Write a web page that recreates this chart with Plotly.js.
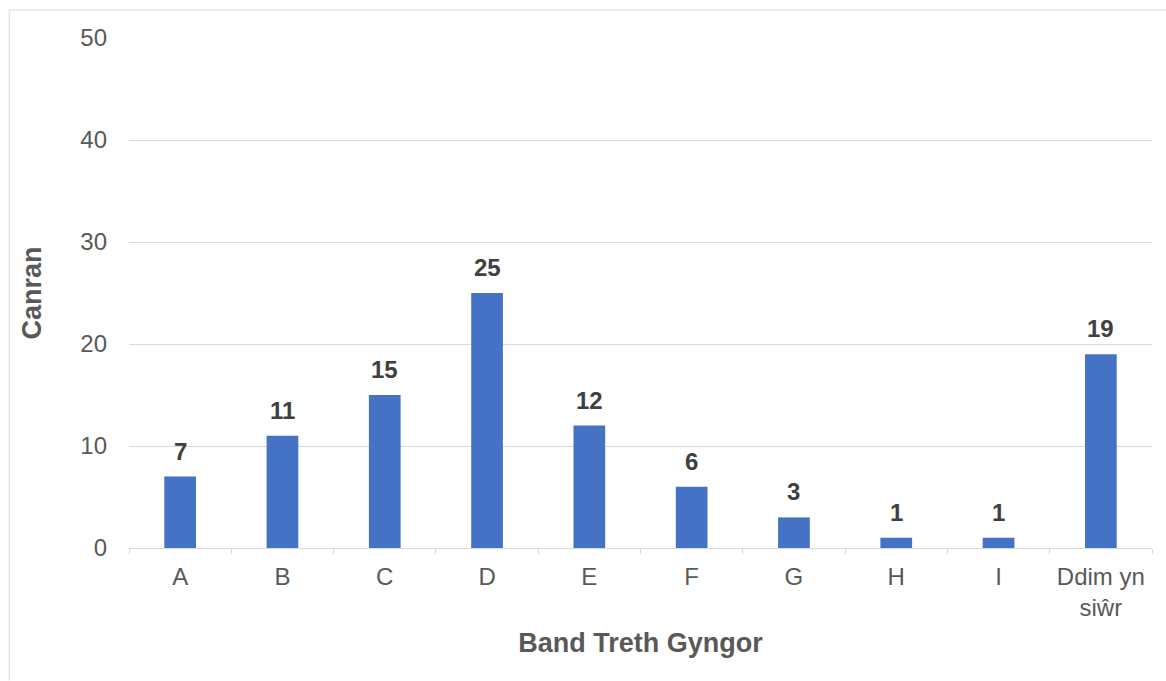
<!DOCTYPE html>
<html>
<head>
<meta charset="utf-8">
<script src="https://cdn.plot.ly/plotly-3.0.1.min.js"></script>
<style>html,body{margin:0;padding:0;background:#fff;}#chart{width:1166px;height:681px;}</style>
</head>
<body>
<div id="chart"></div>
<script>
const categories = ["A", "B", "C", "D", "E", "F", "G", "H", "I", "Ddim yn<br>siŵr"];
const values = [7, 11, 15, 25, 12, 6, 3, 1, 1, 19];
const yTicks = [0, 10, 20, 30, 40, 50];
const xTitle = "Band Treth Gyngor";
const yTitle = "Canran";

const fontFamily = "Liberation Sans, Arial, sans-serif";

const trace = {
  type: "bar",
  x: categories,
  y: values,
  width: 0.31,
  marker: {color: "#4472C4", line: {width: 0}},
  hoverinfo: "skip"
};

const annotations = categories.map((c, i) => ({
  x: c, y: values[i], xref: "x", yref: "y",
  text: "<b>" + values[i] + "</b>",
  showarrow: false, yanchor: "bottom", yshift: 10,
  font: {family: fontFamily, size: 24, color: "#404040"}
}));

const layout = {
  width: 1166, height: 681,
  margin: {l: 129, r: 14, t: 38, b: 133},
  paper_bgcolor: "#fff", plot_bgcolor: "#fff",
  showlegend: false,
  bargap: 0.69,
  xaxis: {
    type: "category",
    tickson: "boundaries",
    ticks: "outside", ticklen: 5, tickcolor: "#d9d9d9", tickwidth: 1,
    showline: true, linecolor: "#d9d9d9", linewidth: 1,
    showgrid: false,
    tickfont: {family: fontFamily, size: 24, color: "#595959"},
    ticklabelstandoff: 7,
    title: {text: "<b>" + xTitle + "</b>", font: {family: fontFamily, size: 27, color: "#595959"}, standoff: 13}
  },
  yaxis: {
    range: [0, 50],
    tickvals: yTicks,
    showgrid: true, gridcolor: "#d9d9d9", gridwidth: 1,
    zeroline: false, showline: false,
    ticks: "", ticklen: 0,
    tickfont: {family: fontFamily, size: 24, color: "#595959"},
    ticklabelstandoff: 21,
    title: {text: "<b>" + yTitle + "</b>", font: {family: fontFamily, size: 27, color: "#595959"}, standoff: 30}
  },
  annotations: annotations,
  shapes: [
    {type: "line", xref: "paper", yref: "paper", x0: -0.1170, x1: 1.02, y0: 1.0549, y1: 1.0549, line: {color: "#e6e6e6", width: 1.5}},
    {type: "line", xref: "paper", yref: "paper", x0: -0.1170, x1: -0.1170, y0: 1.0549, y1: -0.26, line: {color: "#e6e6e6", width: 1.5}}
  ]
};

Plotly.newPlot("chart", [trace], layout, {displayModeBar: false, staticPlot: true});
</script>
</body>
</html>
